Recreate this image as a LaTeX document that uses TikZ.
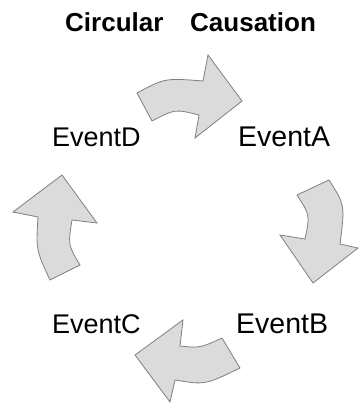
\documentclass[tikz,border=0pt]{standalone}
\usepackage{fontspec}
\setmainfont{Liberation Sans}
\begin{document}
\begin{tikzpicture}[x=1pt,y=-1pt,
  bigarrow/.style={fill=black!14, draw=black!50, line width=0.8pt, line join=miter},
  lbl/.style={anchor=base west, inner sep=0pt, font=\fontsize{27}{30}\selectfont},
  lblwide/.style={lbl, font=\fontsize{28.5}{30}\selectfont},
  ttl/.style={anchor=base west, inner sep=0pt, font=\fontsize{26}{30}\selectfont\bfseries}]
\useasboundingbox[fill=white] (0,0) rectangle (358,403);
% title
\node[ttl] (t1) at (65,32) {Circular};
\node[ttl] (t2) at (190,32) {Causation};
% labels
\node[lbl] (D) at (52,147) {EventD};
\node[lblwide] (A) at (238,147) {EventA};
\node[lbl] (C) at (52,333) {EventC};
\node[lblwide] (B) at (236,333) {EventB};
% top arrow (D -> A)
\draw[bigarrow] (137,93) .. controls (165,78) .. (203,81) -- (208,55) -- (242,101)
  -- (195,138) -- (199,115) .. controls (175,109) .. (152,121) -- cycle;
% right arrow (A -> B)
\draw[bigarrow] (297,195) -- (329,180) .. controls (345,205) .. (340,244) -- (358,248)
  -- (313,283) -- (280,235) -- (305,239) .. controls (310,215) .. (297,195);
% bottom arrow (B -> C)
\draw[bigarrow] (222,338) -- (240,368) .. controls (205,385) .. (175,380) -- (170,402)
  -- (135,355) -- (183,320) -- (180,346) .. controls (200,348) .. (222,338);
% left arrow (C -> D)
\draw[bigarrow] (50,280) .. controls (36,250) .. (38,217) -- (13,212) -- (62,175)
  -- (97,223) -- (72,220) .. controls (68,245) .. (80,265) -- cycle;
\end{tikzpicture}
\end{document}
